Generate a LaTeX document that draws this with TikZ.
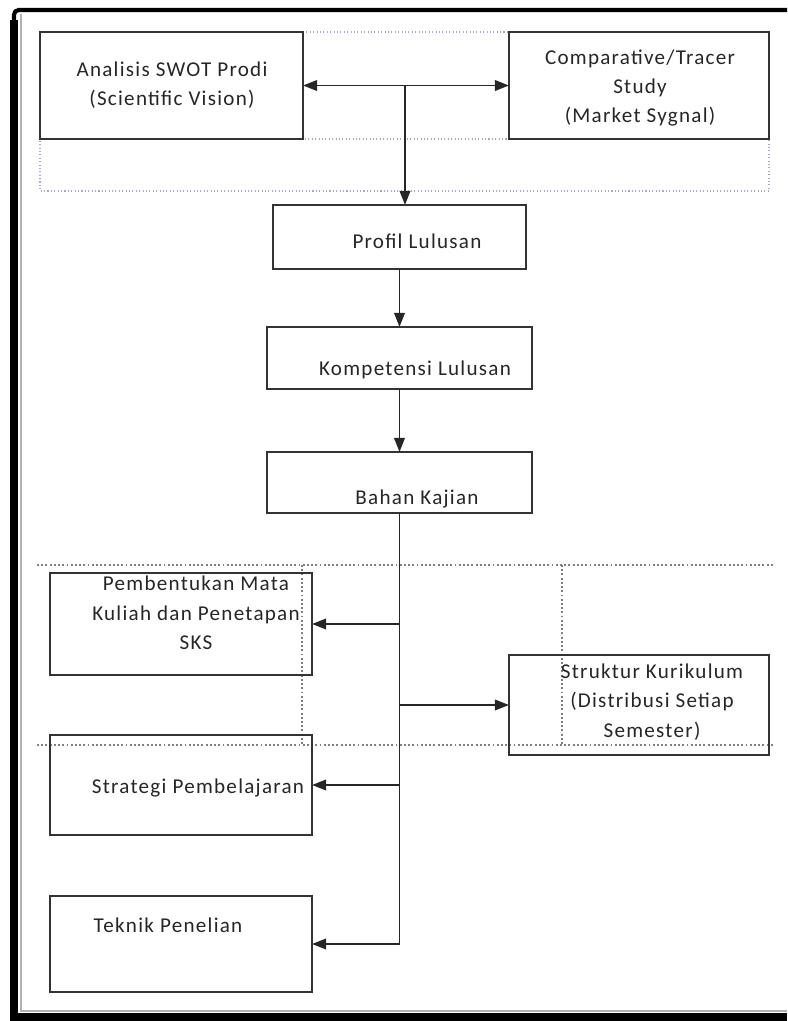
\documentclass[tikz,border=0pt]{standalone}
\usepackage{fontspec}
\setmainfont{Carlito}
\newfontfamily\boxfont[LetterSpace=6]{Carlito}
\usetikzlibrary{arrows.meta, calc, positioning}

\tikzset{
	box/.style={draw=black!80, line width=1.6pt, inner sep=0pt, outer sep=0pt},
	txt/.style={font=\boxfont\fontsize{18}{25}\selectfont, align=center, text=black!85},
	arr/.style={-{Triangle[length=12pt,width=9pt]}, line width=1.6pt, draw=black!85},
	grp/.style={dotted, line width=0.9pt, draw=blue!25!gray!55},
	sep/.style={dotted, line width=1.6pt, draw=gray},
}

\begin{document}
\begin{tikzpicture}[x=0.03cm, y=-0.03cm]
			\useasboundingbox (0,0) rectangle (787,1021);
			% Frame
			\draw[line width=3.5pt, rounded corners=4pt] (787,10) -- (14,10) -- (14,30);
			\draw[line width=7pt] (14,20) -- (14,1017) -- (787,1017);
			\draw[gray!60, line width=1pt] (21,14) -- (21,1011) -- (787,1011);
			
			% Group outline at the top
			\draw[grp] (40,32) rectangle (769,191);
			\draw[grp] (40,139) -- (769,139);
			
			% Separators in the lower part
			\draw[sep] (37,565) -- (775,565);
			\draw[sep] (37,745) -- (775,745);
			\draw[sep] (302,565) -- (302,745);
			\draw[sep] (562,565) -- (562,745);
			
			% Boxes
			\node[box, minimum width=7.89cm, minimum height=3.21cm] (swot) at (171.5,85.5) {};
			\node[box, minimum width=7.8cm, minimum height=3.21cm] (tracer) at (639,85.5) {};
			\node[box, minimum width=7.59cm, minimum height=1.92cm] (profil) at (399.5,237) {};
			\node[box, minimum width=7.95cm, minimum height=1.86cm] (komp) at (399.5,358) {};
			\node[box, minimum width=7.95cm, minimum height=1.83cm] (bahan) at (399.5,482.5) {};
			\node[box, minimum width=7.86cm, minimum height=3.06cm] (mk) at (181,624) {};
			\node[box, minimum width=7.8cm, minimum height=3cm] (struktur) at (639,705) {};
			\node[box, minimum width=7.86cm, minimum height=3cm] (strategi) at (181,785) {};
			\node[box, minimum width=7.86cm, minimum height=2.88cm] (teknik) at (181,944) {};
			
			% Texts
			\node[txt] (swot-t) at (172,85) {Analisis SWOT Prodi\\(Scientific Vision)};
			\node[txt] (tracer-t) at (640,88) {Comparative/Tracer\\Study\\(Market Sygnal)};
			\node[txt] (profil-t) at (417,241) {Profil Lulusan};
			\node[txt] (komp-t) at (415,370) {Kompetensi Lulusan};
			\node[txt] (bahan-t) at (417,499) {Bahan Kajian};
			\node[txt] (mk-t) at (196,613) {Pembentukan Mata\\Kuliah dan Penetapan\\SKS};
			\node[txt] (struktur-t) at (652,702) {Struktur Kurikulum\\(Distribusi Setiap\\Semester)};
			\node[txt] (strategi-t) at (198,788) {Strategi Pembelajaran};
			\node[txt] (teknik-t) at (168,925) {Teknik Penelian};
			
			% Connectors
			\coordinate (split) at (405,85.5);
			\coordinate (trunk) at (399.5,944);
			\draw[arr, {Triangle[length=12pt,width=9pt]}-{Triangle[length=12pt,width=9pt]}] (swot.east) -- (tracer.west);
			\draw[arr] (split) -- (split |- profil.north);
			\draw[arr] (profil.south) -- (komp.north);
			\draw[arr] (komp.south) -- (bahan.north);
			\draw[line width=1.6pt, black!85] (bahan.south) -- (trunk);
			\draw[arr] (bahan.south |- mk.east) -- (mk.east);
			\draw[arr] (bahan.south |- struktur.west) -- (struktur.west);
			\draw[arr] (bahan.south |- strategi.east) -- (strategi.east);
			\draw[arr] (trunk) -- (teknik.east);
\end{tikzpicture}
\end{document}
